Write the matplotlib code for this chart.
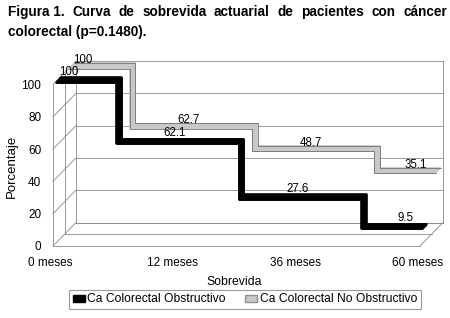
import numpy as np
import matplotlib
matplotlib.use('Agg')
import matplotlib.pyplot as plt
from matplotlib.patches import Patch
from matplotlib.transforms import ScaledTranslation

months = ['0 meses', '12 meses', '36 meses', '60 meses']
obstructivo = [100, 62.1, 27.6, 9.5]
no_obstructivo = [100, 62.7, 48.7, 35.1]
series_names = ['Ca Colorectal Obstructivo', 'Ca Colorectal No Obstructivo']
yticks = [0, 20, 40, 60, 80, 100]

plt.rcParams['font.family'] = ['Liberation Sans', 'DejaVu Sans']
title_font = ['Liberation Sans Narrow', 'Liberation Sans']

W, H = 450., 318.
fig = plt.figure(figsize=(W/100, H/100), dpi=100)
ax = fig.add_axes([53/W, 1-246/H, 367/W, 161.5/H]) # front plane of the 3d box
ax.set_xlim(0, len(months)-1)
ax.set_ylim(0, 100)
for s in ax.spines.values():
    s.set_visible(False)

# depth of the box (px) converted to data units
DX, DY = 23, 23.5
ddx = DX / ax.bbox.width * (len(months)-1)
ddy = DY / ax.bbox.height * 100

def shift(xs, ys, d):
    return np.asarray(xs, float) + d*ddx, np.asarray(ys, float) + d*ddy

x = np.arange(len(months))
xend = len(months)-1
grid_c = '#8a8a8a'
kw = dict(color=grid_c, lw=0.6, clip_on=False)

# back wall
for v in yticks:
    ax.plot(*shift([0, xend], [v, v], 1), **kw)
    ax.plot([0, ddx], [v, v+ddy], **kw) # left wall
ax.plot(*shift([xend, xend], [0, 100], 1), **kw)
for d in [0, 0.5, 1]:
    ax.plot(*shift([0, 0], [0, 100], d), **kw)
    ax.plot(*shift([0, xend], [0, 0], d), **kw)
ax.plot([xend, xend+ddx], [0, ddy], **kw)

# gray ribbon (back)
for d in np.linspace(0.7, 0.9, 12):
    ax.plot(*shift(x, no_obstructivo, d), drawstyle='steps-mid', color='#c8c8c8',
            lw=1.2, clip_on=False, solid_capstyle='butt')
for d in [0.68, 0.92]:
    ax.plot(*shift(x, no_obstructivo, d), drawstyle='steps-mid', color='#707070',
            lw=0.6, clip_on=False)

# black ribbon (front)
for d in np.linspace(0.1, 0.3, 10):
    ax.plot(*shift(x, obstructivo, d), drawstyle='steps-mid', color='black',
            lw=1.9, clip_on=False, solid_capstyle='butt')

# data labels
def labels(vals, d, dy):
    n = len(vals)
    xs, ys = shift(np.arange(n), vals, d)
    for i, v in enumerate(vals):
        if i == 0:
            ha, dx = 'left', 2
        elif i == n-1:
            ha, dx = 'right', -11
        else:
            ha, dx = 'center', -5
        ax.annotate(f'{v:g}', xy=(xs[i], ys[i]), xytext=(dx, dy),
                    textcoords='offset pixels', ha=ha, va='center',
                    fontsize=8.3, annotation_clip=False)

labels(obstructivo, 0.2, 8)
labels(no_obstructivo, 0.8, 5.5)

ax.set_xticks(x, months, fontsize=8.5)
ax.set_yticks(yticks, [str(v) for v in yticks], fontsize=8.5)
ax.tick_params(axis='x', length=0, pad=8)
ax.tick_params(axis='y', length=0, pad=8.4)
for lab in ax.get_xticklabels():
    lab.set_transform(lab.get_transform() + ScaledTranslation(-0.025, 0, fig.dpi_scale_trans))

fig.text(12/W, 1-166/H, 'Porcentaje', rotation=90, ha='center', va='center', fontsize=9.5)
fig.text(234/W, 1-282/H, 'Sobrevida', ha='center', va='center', fontsize=8.8)

# title, first line justified
r = fig.canvas.get_renderer()
words = ['Figura 1.', 'Curva', 'de', 'sobrevida', 'actuarial', 'de', 'pacientes', 'con', 'cáncer']
tx = [fig.text(0, 1-16/H, w, fontsize=9.8, fontweight='bold', va='baseline',
               family=title_font) for w in words]
widths = [t.get_window_extent(r).width for t in tx]
gap = (447 - 8 - sum(widths)) / (len(words)-1)
pos = 8
for t, w in zip(tx, widths):
    t.set_x(pos/W)
    pos += w + gap
fig.text(8/W, 1-36/H, 'colorectal (p=0.1480).', fontsize=9.8, fontweight='bold',
         va='baseline', family=title_font)

handles = [Patch(facecolor='black', edgecolor='black'),
           Patch(facecolor='#c8c8c8', edgecolor='#909090')]
leg = fig.legend(handles, series_names, loc='center', ncol=2,
                 bbox_to_anchor=(245/W, 1-299.5/H), frameon=True, fancybox=False,
                 edgecolor='#808080', fontsize=8.7, handlelength=1.0, handleheight=0.5,
                 handletextpad=0.2, columnspacing=1.6, borderpad=0.3, borderaxespad=0)
leg.get_frame().set_linewidth(0.8)

fig.savefig('out.png', dpi=100)
